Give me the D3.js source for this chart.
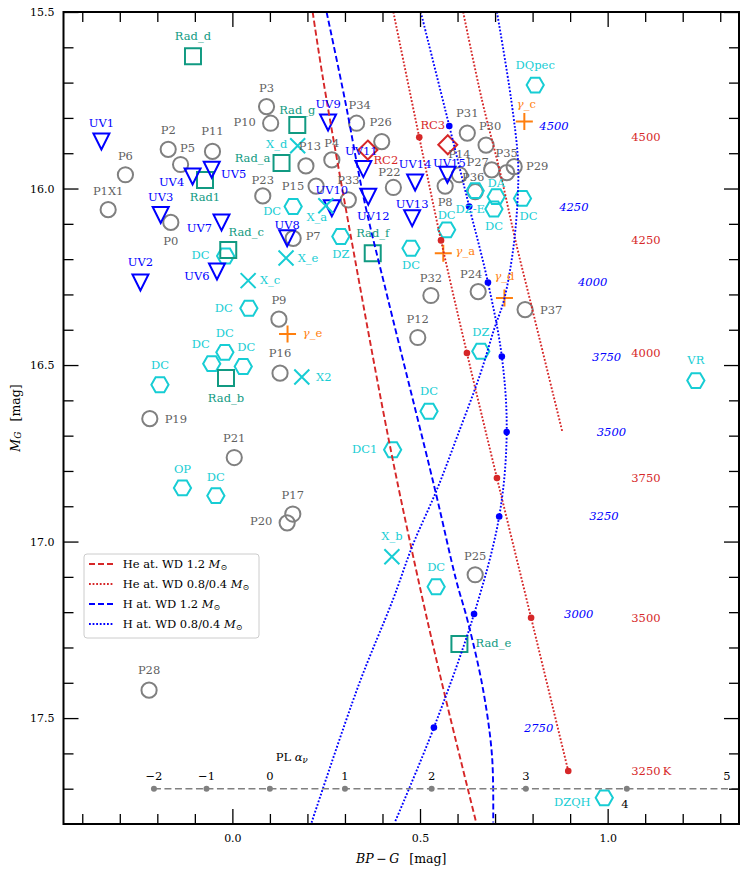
<!DOCTYPE html>
<html>
<head>
<meta charset="utf-8">
<script src="https://cdn.jsdelivr.net/npm/d3@7"></script>
<style>
  body { margin: 0; background: #fff; }
  svg { display: block; font-family: "DejaVu Serif", serif; }
</style>
</head>
<body>
<div id="chart"></div>
<script>
// ---- data (BP-G, M_G) ----
const pointsP = [
  { name: "P0", bp: -0.164, mg: 16.096 }, { name: "P1X1", bp: -0.331, mg: 16.060 },
  { name: "P2", bp: -0.171, mg: 15.889 }, { name: "P3", bp: 0.091, mg: 15.768 },
  { name: "P4", bp: 0.265, mg: 15.919 }, { name: "P5", bp: -0.138, mg: 15.932 },
  { name: "P6", bp: -0.285, mg: 15.961 }, { name: "P7", bp: 0.162, mg: 16.141 },
  { name: "P8", bp: 0.567, mg: 15.993 }, { name: "P9", bp: 0.124, mg: 16.370 },
  { name: "P10", bp: 0.102, mg: 15.815 }, { name: "P11", bp: -0.053, mg: 15.895 },
  { name: "P12", bp: 0.494, mg: 16.422 }, { name: "P13", bp: 0.196, mg: 15.936 },
  { name: "P14", bp: 0.605, mg: 15.961 }, { name: "P15", bp: 0.223, mg: 15.993 },
  { name: "P16", bp: 0.127, mg: 16.523 }, { name: "P17", bp: 0.161, mg: 16.922 },
  { name: "P19", bp: -0.220, mg: 16.652 }, { name: "P20", bp: 0.146, mg: 16.947 },
  { name: "P21", bp: 0.005, mg: 16.762 }, { name: "P22", bp: 0.429, mg: 15.997 },
  { name: "P23", bp: 0.081, mg: 16.021 }, { name: "P24", bp: 0.655, mg: 16.292 },
  { name: "P25", bp: 0.647, mg: 17.094 }, { name: "P26", bp: 0.398, mg: 15.867 },
  { name: "P27", bp: 0.691, mg: 15.947 }, { name: "P28", bp: -0.222, mg: 17.421 },
  { name: "P29", bp: 0.751, mg: 15.938 }, { name: "P30", bp: 0.676, mg: 15.877 },
  { name: "P31", bp: 0.626, mg: 15.843 }, { name: "P32", bp: 0.529, mg: 16.303 },
  { name: "P33", bp: 0.309, mg: 16.032 }, { name: "P34", bp: 0.331, mg: 15.815 },
  { name: "P35", bp: 0.731, mg: 15.955 }, { name: "P36", bp: 0.647, mg: 16.009 },
  { name: "P37", bp: 0.780, mg: 16.343 }
];

const pointsUV = [
  { name: "UV1", bp: -0.349, mg: 15.867 }, { name: "UV2", bp: -0.245, mg: 16.266 },
  { name: "UV3", bp: -0.191, mg: 16.075 }, { name: "UV4", bp: -0.106, mg: 15.966 },
  { name: "UV5", bp: -0.055, mg: 15.947 }, { name: "UV6", bp: -0.041, mg: 16.235 },
  { name: "UV7", bp: -0.029, mg: 16.096 }, { name: "UV8", bp: 0.146, mg: 16.141 },
  { name: "UV9", bp: 0.255, mg: 15.813 }, { name: "UV10", bp: 0.265, mg: 16.056 },
  { name: "UV11", bp: 0.349, mg: 15.945 }, { name: "UV12", bp: 0.362, mg: 16.023 },
  { name: "UV13", bp: 0.479, mg: 16.084 }, { name: "UV14", bp: 0.487, mg: 15.983 },
  { name: "UV15", bp: 0.573, mg: 15.961 }
];

const pointsWD = [
  { name: "DQpec", bp: 0.807, mg: 15.707 }, { name: "DA", bp: 0.703, mg: 16.023 },
  { name: "DC", bp: 0.697, mg: 16.058 }, { name: "DZ-E", bp: 0.647, mg: 16.006 },
  { name: "DC", bp: 0.773, mg: 16.028 }, { name: "DC", bp: 0.571, mg: 16.117 },
  { name: "DC", bp: 0.476, mg: 16.169 }, { name: "DZ", bp: 0.289, mg: 16.136 },
  { name: "DC", bp: 0.162, mg: 16.051 }, { name: "DC", bp: -0.018, mg: 16.191 },
  { name: "DC", bp: 0.044, mg: 16.339 }, { name: "DC", bp: -0.020, mg: 16.464 },
  { name: "DC", bp: -0.055, mg: 16.496 }, { name: "DC", bp: 0.029, mg: 16.504 },
  { name: "DC", bp: -0.193, mg: 16.556 }, { name: "OP", bp: -0.133, mg: 16.848 },
  { name: "DC", bp: -0.044, mg: 16.870 }, { name: "DZ", bp: 0.662, mg: 16.461 },
  { name: "DC", bp: 0.524, mg: 16.631 }, { name: "DC1", bp: 0.427, mg: 16.740 },
  { name: "DC", bp: 0.543, mg: 17.128 }, { name: "VR", bp: 1.235, mg: 16.544 },
  { name: "DZQH", bp: 0.991, mg: 17.726 }
];

const pointsRad = [
  { name: "Rad_d", bp: -0.105, mg: 15.625 }, { name: "Rad_g", bp: 0.173, mg: 15.820 },
  { name: "Rad_a", bp: 0.131, mg: 15.928 }, { name: "Rad1", bp: -0.073, mg: 15.976 },
  { name: "Rad_c", bp: -0.011, mg: 16.174 }, { name: "Rad_f", bp: 0.374, mg: 16.183 },
  { name: "Rad_b", bp: -0.017, mg: 16.537 }, { name: "Rad_e", bp: 0.605, mg: 17.290 }
];

const pointsX = [
  { name: "X_d", bp: 0.174, mg: 15.879 }, { name: "X_a", bp: 0.249, mg: 16.049 },
  { name: "X_e", bp: 0.143, mg: 16.197 }, { name: "X_c", bp: 0.042, mg: 16.261 },
  { name: "X2", bp: 0.185, mg: 16.534 }, { name: "X_b", bp: 0.425, mg: 17.043 }
];

const pointsGamma = [
  { name: "γ_c", bp: 0.778, mg: 15.810 }, { name: "γ_a", bp: 0.562, mg: 16.183 },
  { name: "γ_d", bp: 0.725, mg: 16.310 }, { name: "γ_e", bp: 0.147, mg: 16.412 }
];

const pointsRC = [
  { name: "RC2", bp: 0.361, mg: 15.891 }, { name: "RC3", bp: 0.574, mg: 15.876 }
];

// model tracks [BP-G, M_G]
const heWd12 = [[0.214, 15.5], [0.242, 15.692], [0.327, 16.202], [0.422, 16.740],
  [0.507, 17.164], [0.567, 17.439], [0.649, 17.793]];
const hWd12 = [[0.251, 15.5], [0.300, 15.749], [0.351, 16.032], [0.415, 16.315],
  [0.540, 16.853], [0.596, 17.108], [0.628, 17.229], [0.668, 17.419], [0.692, 17.609], [0.695, 17.796]];
const heWd08 = [[0.429, 15.5], [0.498, 15.855], [0.556, 16.147], [0.625, 16.466],
  [0.705, 16.820], [0.796, 17.216], [0.895, 17.650]];
const heWd04 = [[0.615, 15.5], [0.665, 15.749], [0.713, 15.952], [0.758, 16.164],
  [0.793, 16.315], [0.879, 16.688]];
const hWd08 = [[0.502, 15.5], [0.578, 15.823], [0.631, 16.051], [0.681, 16.266],
  [0.718, 16.476], [0.731, 16.690], [0.711, 16.929], [0.644, 17.205], [0.537, 17.527], [0.433, 17.795]];
const hWd04 = [[0.705, 15.5], [0.743, 15.749], [0.761, 15.919], [0.760, 16.032],
  [0.748, 16.174], [0.724, 16.315], [0.697, 16.400], [0.660, 16.527], [0.601, 16.697],
  [0.545, 16.853], [0.481, 17.009], [0.428, 17.164], [0.337, 17.405], [0.211, 17.796]];

// Teff marks
const heTeff = [4500, 4250, 4000, 3750, 3500, 3250];
const heTeffBP = [0.498, 0.556, 0.625, 0.705, 0.796, 0.895];
const heTeffMG = [15.855, 16.147, 16.466, 16.820, 17.216, 17.650];
const hTeff = [4500, 4250, 4000, 3750, 3500, 3250, 3000, 2750];
const hTeffBP = [0.578, 0.631, 0.681, 0.718, 0.731, 0.711, 0.644, 0.537];
const hTeffMG = [15.823, 16.051, 16.266, 16.476, 16.690, 16.929, 17.205, 17.527];
const heLabelBP = 1.063;
const hLabelShift = 0.24;

// power-law alpha_nu reference line
const plAlpha = [-2, -1, 0, 1, 2, 3, 4, 5];
const plBP = [-0.209, -0.069, 0.100, 0.300, 0.531, 0.782, 1.051, 1.318];
const plMG = 17.7;

const xMajorTicks = [0.0, 0.5, 1.0];
const yMajorTicks = [15.5, 16.0, 16.5, 17.0, 17.5];

const legendItems = [
  { text: "He at. WD 1.2 ", color: "#d62728", dash: "6,3" },
  { text: "He at. WD 0.8/0.4 ", color: "#d62728", dash: "1.8,1.8" },
  { text: "H at. WD 1.2 ", color: "#0000ff", dash: "6,3" },
  { text: "H at. WD 0.8/0.4 ", color: "#0000ff", dash: "1.8,1.8" }
];

// ---- label placement (px offsets from marker centre), same order as data ----
const labelAtP = [[0,19],[0,-19],[0,-19],[0,-19],[0,-17],[7,-17],[0,-19],[20,-2],[0,16],[0,-19],
  [-26,-1],[0,-20],[0,-19],[4,-20],[0,-21],[-23,0],[0,-20],[0,-19],[26,0],[-26,-2],[0,-20],
  [-4,-15],[0,-16],[-7,-18],[0,-19],[-1,-20],[-14,-8],[0,-20],[23,-1],[4,-19],[0,-20],[0,-17],
  [0,-20],[3,-18],[0,-20],[-2,-15],[26,0]];
const labelAtUV = [[0,-19],[0,-20],[0,-18],[-21,5],[22,4],[-20,5],[-22,6],[0,-13],[0,-19],
  [0,-18],[-2,-18],[5,19],[0,-14],[0,-19],[2,-12]];
const labelAtWD = [[0,-20],[0,-14],[0,17],[-5,18],[6,18],[0,-15],[0,17],[0,17],[-21,4],[-25,-1],
  [-25,0],[0,-19],[-11,-20],[3,-19],[0,-20],[0,-19],[0,-19],[0,-19],[0,-20],[-28,-1],[0,-20],
  [0,-21],[-32,4]];
const labelAtRad = [[0,-20],[0,-15],[-29,-5],[0,17],[18,-18],[0,-20],[0,20],[34,-1]];
const labelAtX = [[-21,-2],[-9,11],[22,0],[22,-1],[22,0],[0,-21]];
const labelAtGamma = [[2,-17],[22,-2],[0,-22],[25,-1]];
const labelAtRC = [[18,10],[-15,-20]];

// ---- chart ----
const width = 747;
const height = 874;
const plotLeft = 63.5, plotRight = 739, plotTop = 12, plotBottom = 824;

const colGray = "#808080";
const colBlue = "#0000ff";
const colCyan = "#17cdd4";
const colTeal = "#119a82";
const colOrange = "#ff7f0e";
const colRed = "#d62728";

const x = d3.scaleLinear().domain([-0.45, 1.35]).range([plotLeft, plotRight]);
const y = d3.scaleLinear().domain([15.5, 17.8]).range([plotTop, plotBottom]);

const svg = d3.select("#chart").append("svg")
  .attr("width", width)
  .attr("height", height)
  .attr("viewBox", [0, 0, width, height]);

svg.append("rect").attr("width", width).attr("height", height).attr("fill", "#fff");

svg.append("clipPath").attr("id", "plot-clip")
  .append("rect")
  .attr("x", plotLeft).attr("y", plotTop)
  .attr("width", plotRight - plotLeft).attr("height", plotBottom - plotTop);

// marker shapes (size = half-width squared)
const hexagon = { draw(ctx, size) {
  const r = Math.sqrt(size);
  for (let i = 0; i < 6; i++) {
    const a = i * Math.PI / 3;
    if (i) ctx.lineTo(r * Math.cos(a), r * Math.sin(a)); else ctx.moveTo(r, 0);
  }
  ctx.closePath();
} };
const triangleDown = { draw(ctx, size) {
  const r = Math.sqrt(size);
  ctx.moveTo(0, r); ctx.lineTo(-r, -r); ctx.lineTo(r, -r); ctx.closePath();
} };
const square = { draw(ctx, size) {
  const r = Math.sqrt(size);
  ctx.rect(-r, -r, 2 * r, 2 * r);
} };
const diamond = { draw(ctx, size) {
  const r = Math.sqrt(size);
  ctx.moveTo(0, -r); ctx.lineTo(r, 0); ctx.lineTo(0, r); ctx.lineTo(-r, 0); ctx.closePath();
} };
const cross = { draw(ctx, size) {
  const r = Math.sqrt(size);
  ctx.moveTo(-r, -r); ctx.lineTo(r, r); ctx.moveTo(-r, r); ctx.lineTo(r, -r);
} };
const plus = { draw(ctx, size) {
  const r = Math.sqrt(size);
  ctx.moveTo(-r, 0); ctx.lineTo(r, 0); ctx.moveTo(0, -r); ctx.lineTo(0, r);
} };

const markerLayer = svg.append("g").attr("clip-path", "url(#plot-clip)");

function drawMarkers(data, type, r, color) {
  markerLayer.append("g")
    .selectAll("path")
    .data(data)
    .join("path")
    .attr("transform", (d) => `translate(${x(d.bp)},${y(d.mg)})`)
    .attr("d", d3.symbol().type(type).size(r * r))
    .attr("fill", "none")
    .attr("stroke", color)
    .attr("stroke-width", 2);
}

markerLayer.append("g")
  .selectAll("circle")
  .data(pointsP)
  .join("circle")
  .attr("cx", (d) => x(d.bp))
  .attr("cy", (d) => y(d.mg))
  .attr("r", 7.6)
  .attr("fill", "none")
  .attr("stroke", colGray)
  .attr("stroke-width", 2);

drawMarkers(pointsWD, hexagon, 8.6, colCyan);
drawMarkers(pointsRad, square, 8, colTeal);
drawMarkers(pointsUV, triangleDown, 8, colBlue);
drawMarkers(pointsX, cross, 7.5, colCyan);
drawMarkers(pointsGamma, plus, 8.5, colOrange);
drawMarkers(pointsRC, diamond, 9.5, colRed);

// model tracks
const line = d3.line()
  .x((d) => x(d[0]))
  .y((d) => y(d[1]))
  .curve(d3.curveCatmullRom.alpha(0.5));

const trackLayer = svg.append("g").attr("clip-path", "url(#plot-clip)");
const tracks = [
  { pts: heWd12, color: colRed, dash: "6,3" },
  { pts: heWd08, color: colRed, dash: "1.8,1.8" },
  { pts: heWd04, color: colRed, dash: "1.8,1.8" },
  { pts: hWd12, color: colBlue, dash: "6,3" },
  { pts: hWd08, color: colBlue, dash: "1.8,1.8" },
  { pts: hWd04, color: colBlue, dash: "1.8,1.8" }
];
trackLayer.selectAll("path")
  .data(tracks)
  .join("path")
  .attr("d", (d) => line(d.pts))
  .attr("fill", "none")
  .attr("stroke", (d) => d.color)
  .attr("stroke-width", 1.9)
  .attr("stroke-dasharray", (d) => d.dash);

trackLayer.append("g")
  .selectAll("circle")
  .data(heTeff)
  .join("circle")
  .attr("cx", (d, i) => x(heTeffBP[i]))
  .attr("cy", (d, i) => y(heTeffMG[i]))
  .attr("r", 3.3)
  .attr("fill", colRed);

trackLayer.append("g")
  .selectAll("circle")
  .data(hTeff)
  .join("circle")
  .attr("cx", (d, i) => x(hTeffBP[i]))
  .attr("cy", (d, i) => y(hTeffMG[i]))
  .attr("r", 3.3)
  .attr("fill", colBlue);

// Teff labels
svg.append("g")
  .selectAll("text")
  .data(heTeff)
  .join("text")
  .attr("x", x(heLabelBP))
  .attr("y", (d, i) => y(heTeffMG[i]))
  .attr("dominant-baseline", "central")
  .attr("font-size", 11.5)
  .attr("fill", colRed)
  .text((d, i) => (i === heTeff.length - 1 ? d + "\u2009K" : d));

svg.append("g")
  .selectAll("text")
  .data(hTeff)
  .join("text")
  .attr("x", (d, i) => x(hTeffBP[i] + hLabelShift))
  .attr("y", (d, i) => y(hTeffMG[i]))
  .attr("dominant-baseline", "central")
  .attr("font-size", 11.5)
  .attr("font-style", "italic")
  .attr("fill", colBlue)
  .text((d) => d);

// power-law reference line
const plLayer = svg.append("g").attr("clip-path", "url(#plot-clip)");
plLayer.append("line")
  .attr("x1", x(plBP[0]))
  .attr("x2", plotRight)
  .attr("y1", y(plMG))
  .attr("y2", y(plMG))
  .attr("stroke", colGray)
  .attr("stroke-width", 1.6)
  .attr("stroke-dasharray", "7,3.5");
plLayer.selectAll("circle")
  .data(plAlpha.filter((a) => a < 5))
  .join("circle")
  .attr("cx", (d, i) => x(plBP[i]))
  .attr("cy", y(plMG))
  .attr("r", 3)
  .attr("fill", colGray);
svg.append("g")
  .selectAll("text")
  .data(plAlpha)
  .join("text")
  .attr("x", (d, i) => x(plBP[i]) + (d === 4 ? -2 : 0))
  .attr("y", (d) => y(plMG) + (d === 4 ? 15 : -13))
  .attr("text-anchor", "middle")
  .attr("dominant-baseline", "central")
  .attr("font-size", 11.5)
  .attr("fill", "#000")
  .text((d) => (d < 0 ? "\u2212" + Math.abs(d) : d));

const plTitle = svg.append("text")
  .attr("x", x(0.158))
  .attr("y", y(17.61))
  .attr("text-anchor", "middle")
  .attr("dominant-baseline", "central")
  .attr("font-size", 11.5);
plTitle.append("tspan").text("PL ");
plTitle.append("tspan").attr("font-style", "italic").text("\u03b1");
plTitle.append("tspan").attr("font-style", "italic").attr("font-size", 8.5).attr("dy", 3).text("\u03bd");

// point labels
function drawLabels(data, offsets, color) {
  const g = svg.append("g");
  data.forEach((d, i) => {
    const t = g.append("text")
      .attr("x", x(d.bp) + offsets[i][0])
      .attr("y", y(d.mg) + offsets[i][1])
      .attr("text-anchor", "middle")
      .attr("dominant-baseline", "central")
      .attr("font-size", 11.5)
      .attr("fill", color);
    if (d.name.startsWith("\u03b3")) {
      t.append("tspan").attr("font-style", "italic").text("\u03b3");
      t.append("tspan").text(d.name.slice(1));
    } else {
      t.text(d.name);
    }
  });
}

drawLabels(pointsP, labelAtP, "#5f5f5f");
drawLabels(pointsWD, labelAtWD, colCyan);
drawLabels(pointsRad, labelAtRad, colTeal);
drawLabels(pointsUV, labelAtUV, colBlue);
drawLabels(pointsX, labelAtX, colCyan);
drawLabels(pointsGamma, labelAtGamma, colOrange);
drawLabels(pointsRC, labelAtRC, colRed);

// legend
const legend = svg.append("g").attr("transform", "translate(84,554)");
legend.append("rect")
  .attr("width", 175)
  .attr("height", 84)
  .attr("rx", 3)
  .attr("fill", "#fff")
  .attr("fill-opacity", 0.85)
  .attr("stroke", "#cccccc");
const legendRows = legend.selectAll("g")
  .data(legendItems)
  .join("g")
  .attr("transform", (d, i) => `translate(0,${10 + i * 20})`);
legendRows.append("line")
  .attr("x1", 5).attr("x2", 29)
  .attr("stroke", (d) => d.color)
  .attr("stroke-width", 1.9)
  .attr("stroke-dasharray", (d) => d.dash);
const legendText = legendRows.append("text")
  .attr("x", 38.7)
  .attr("dominant-baseline", "central")
  .attr("font-size", 11.5);
legendText.append("tspan").text((d) => d.text);
legendText.append("tspan").attr("font-style", "italic").text("M");
legendText.append("tspan").attr("font-size", 8).attr("dy", 3).text("\u2299");

// axes: inward ticks on all four sides
function styleAxis(g) {
  g.select(".domain").remove();
  g.selectAll(".tick line").attr("stroke", "#000").attr("stroke-width", 1.3);
  g.selectAll(".tick text")
    .attr("font-family", "DejaVu Serif, serif")
    .attr("font-size", 11)
    .attr("fill", "#000");
}

const xMinor = d3.range(-4, 14).map((i) => i / 10).filter((v) => !xMajorTicks.some((m) => Math.abs(m - v) < 1e-9));
const yMinor = d3.range(156, 178).map((i) => i / 10).filter((v) => !yMajorTicks.some((m) => Math.abs(m - v) < 1e-9));

const fmt1 = d3.format(".1f");

svg.append("g").attr("transform", `translate(0,${plotBottom})`)
  .call(d3.axisBottom(x).tickValues(xMinor).tickSize(-10).tickFormat("")).call(styleAxis);
svg.append("g").attr("transform", `translate(0,${plotBottom})`)
  .call(d3.axisBottom(x).tickValues(xMajorTicks).tickSize(-15).tickPadding(10).tickFormat(fmt1)).call(styleAxis);
svg.append("g").attr("transform", `translate(0,${plotTop})`)
  .call(d3.axisTop(x).tickValues(xMinor).tickSize(-10).tickFormat("")).call(styleAxis);
svg.append("g").attr("transform", `translate(0,${plotTop})`)
  .call(d3.axisTop(x).tickValues(xMajorTicks).tickSize(-15).tickFormat("")).call(styleAxis);

svg.append("g").attr("transform", `translate(${plotLeft},0)`)
  .call(d3.axisLeft(y).tickValues(yMinor).tickSize(-10).tickFormat("")).call(styleAxis);
svg.append("g").attr("transform", `translate(${plotLeft},0)`)
  .call(d3.axisLeft(y).tickValues(yMajorTicks).tickSize(-15).tickPadding(9).tickFormat(fmt1)).call(styleAxis);
svg.append("g").attr("transform", `translate(${plotRight},0)`)
  .call(d3.axisRight(y).tickValues(yMinor).tickSize(-10).tickFormat("")).call(styleAxis);
svg.append("g").attr("transform", `translate(${plotRight},0)`)
  .call(d3.axisRight(y).tickValues(yMajorTicks).tickSize(-15).tickFormat("")).call(styleAxis);

svg.append("rect")
  .attr("x", plotLeft).attr("y", plotTop)
  .attr("width", plotRight - plotLeft).attr("height", plotBottom - plotTop)
  .attr("fill", "none")
  .attr("stroke", "#000")
  .attr("stroke-width", 2);

// axis titles
const xTitle = svg.append("text")
  .attr("x", (plotLeft + plotRight) / 2)
  .attr("y", 858)
  .attr("text-anchor", "middle")
  .attr("dominant-baseline", "central")
  .attr("font-size", 12.5);
xTitle.append("tspan").attr("font-style", "italic").text("BP");
xTitle.append("tspan").text("\u2009\u2212\u2009");
xTitle.append("tspan").attr("font-style", "italic").text("G");
xTitle.append("tspan").text("\u2002 [mag]");

const yTitle = svg.append("text")
  .attr("transform", `translate(15,${(plotTop + plotBottom) / 2}) rotate(-90)`)
  .attr("text-anchor", "middle")
  .attr("dominant-baseline", "central")
  .attr("font-size", 12.5);
yTitle.append("tspan").attr("font-style", "italic").text("M");
yTitle.append("tspan").attr("font-style", "italic").attr("font-size", 9).attr("dy", 3).text("G");
yTitle.append("tspan").attr("dy", -3).text("\u2002 [mag]");
</script>
</body>
</html>
